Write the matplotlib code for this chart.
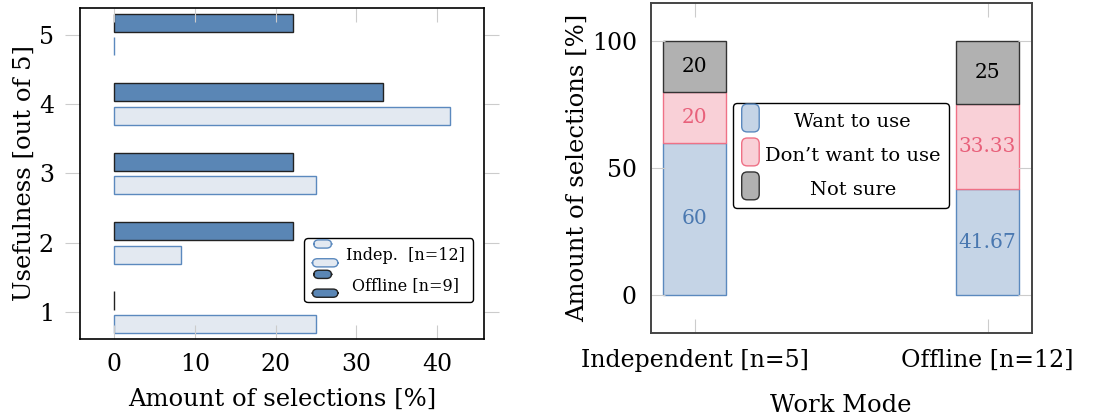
import matplotlib
matplotlib.use("Agg")
import matplotlib.pyplot as plt
from matplotlib.patches import FancyBboxPatch, Patch
from matplotlib.legend_handler import HandlerBase
import numpy as np

# usefulness ratings, share of selections per group [%]
levels = [1, 2, 3, 4, 5]
indep_share = [25, 8.33, 25, 41.67, 0]
offline_share = [0, 22.22, 22.22, 33.33, 22.22]

# stacked answers per work mode [%]
modes = ["Independent [n=5]", "Offline [n=12]"]
want_use = [60, 41.67]
dont_want = [20, 33.33]
not_sure = [20, 25]

plt.rcParams["font.family"] = ["DejaVu Serif"]

indep_fc, indep_ec = "#e3e9f1", "#5b89be"
off_fc, off_ec = "#5a86b5", "#222222"
want_fc, want_ec = "#c5d4e6", "#5b89be"
dont_fc, dont_ec = "#f9d0d7", "#ef7186"
unsure_fc, unsure_ec = "#b1b1b1", "#333333"
tick_col = "#cccccc"


class TwoBarHandler(HandlerBase):
    # two small rounded bars, like the pgfplots xbar legend
    def create_artists(self, legend, orig, xd, yd, w, h, fs, trans):
        fc, ec = orig.get_facecolor(), orig.get_edgecolor()
        small = FancyBboxPatch((xd + 0.05 * w, yd + 0.55 * h), 0.7 * w, 0.5 * h,
                               boxstyle="round,pad=0,rounding_size=3.5",
                               fc=fc, ec=ec, lw=1, transform=trans)
        big = FancyBboxPatch((xd, yd - 0.6 * h), w, 0.5 * h,
                             boxstyle="round,pad=0,rounding_size=3.5",
                             fc=fc, ec=ec, lw=1, transform=trans)
        return [small, big]


class RoundBoxHandler(HandlerBase):
    def create_artists(self, legend, orig, xd, yd, w, h, fs, trans):
        box = FancyBboxPatch((xd, yd - 0.4 * h), w, 1.6 * h,
                             boxstyle="round,pad=0,rounding_size=4",
                             fc=orig.get_facecolor(), ec=orig.get_edgecolor(),
                             lw=1, transform=trans)
        return [box]


def centre_texts(leg):
    # centre the legend entries within the text column
    texts = leg.get_texts()
    widths = [t.get_window_extent().width for t in texts]
    for t, w in zip(texts, widths):
        t.set_x((max(widths) - w) / 2)


fig = plt.figure(figsize=(11.13, 4.19), dpi=100)

# ---- left: usefulness ratings ----
ax1 = fig.add_axes([0.0722, 0.190, 0.3624, 0.792])
y = np.array(levels)
ax1.barh(y - 0.17, indep_share, height=0.26, color=indep_fc, edgecolor=indep_ec,
         linewidth=1, label="Indep. [n=12]")
ax1.barh(y + 0.17, offline_share, height=0.26, color=off_fc, edgecolor=off_ec,
         linewidth=1, label="Offline [n=9]")
ax1.set_xlim(-4.2, 45.8)
ax1.set_ylim(0.61, 5.39)
ax1.set_xticks([0, 10, 20, 30, 40])
ax1.set_yticks(levels)
ax1.tick_params(axis="x", direction="in", top=True, length=10, color=tick_col,
                labelsize=17, pad=10)
ax1.tick_params(axis="y", direction="out", right=True, length=11, color=tick_col,
                labelsize=17, pad=8)
ax1.set_xlabel("Amount of selections [%]", fontsize=17.5, labelpad=8)
ax1.set_ylabel("Usefulness [out of 5]", fontsize=17.5, labelpad=2)
for s in ax1.spines.values():
    s.set_linewidth(1.2)
leg1 = ax1.legend(handler_map={Patch: TwoBarHandler()},
                  handles=[Patch(fc=indep_fc, ec=indep_ec), Patch(fc=off_fc, ec=off_ec)],
                  labels=["Indep.  [n=12]", "Offline [n=9]"],
                  loc="lower right", bbox_to_anchor=(0.973, 0.112), borderaxespad=0,
                  fontsize=11.5, handlelength=1.6, handleheight=1.2, handletextpad=0.5,
                  labelspacing=0.8, fancybox=True, framealpha=1, edgecolor="black",
                  borderpad=0.5)
leg1.get_frame().set_linewidth(1)

# ---- right: stacked answers per work mode ----
ax2 = fig.add_axes([0.5846, 0.2045, 0.3423, 0.789])
x = np.arange(len(modes))
b1 = ax2.bar(x, want_use, width=0.215, color=want_fc, edgecolor=want_ec, linewidth=1,
             label="Want to use")
b2 = ax2.bar(x, dont_want, width=0.215, bottom=want_use, color=dont_fc,
             edgecolor=dont_ec, linewidth=1, label="Don\u2019t want to use")
bottom3 = np.array(want_use) + np.array(dont_want)
b3 = ax2.bar(x, not_sure, width=0.215, bottom=bottom3, color=unsure_fc,
             edgecolor=unsure_ec, linewidth=1, label="Not sure")
ax2.bar_label(b1, labels=[f"{v:g}" for v in want_use], label_type="center",
              color="#4a78b0", fontsize=14.5)
ax2.bar_label(b2, labels=[f"{v:g}" for v in dont_want], label_type="center",
              color="#e8607a", fontsize=14.5)
ax2.bar_label(b3, labels=[f"{v:g}" for v in not_sure], label_type="center",
              color="black", fontsize=14.5)
ax2.set_xlim(-0.15, 1.15)
ax2.set_ylim(-15, 115)
ax2.set_xticks(x)
ax2.set_xticklabels(modes)
ax2.set_yticks([0, 50, 100])
ax2.tick_params(direction="in", top=True, right=True, length=10, color=tick_col,
                labelsize=17)
ax2.tick_params(axis="x", pad=11)
ax2.tick_params(axis="y", pad=10)
ax2.set_xlabel("Work Mode", fontsize=17.5, labelpad=16)
ax2.set_ylabel("Amount of selections [%]", fontsize=17.5, labelpad=2)
for s in ax2.spines.values():
    s.set_linewidth(1.4)
    s.set_color("#444444")

leg2 = ax2.legend(handler_map={Patch: RoundBoxHandler()},
                  handles=[Patch(fc=want_fc, ec=want_ec), Patch(fc=dont_fc, ec=dont_ec),
                           Patch(fc=unsure_fc, ec=unsure_ec)],
                  labels=["Want to use", "Don\u2019t want to use", "Not sure"],
                  loc="upper left", bbox_to_anchor=(0.216, 0.697), borderaxespad=0,
                  fontsize=14, handlelength=0.9, handleheight=1.0, handletextpad=0.3,
                  labelspacing=0.75, fancybox=True, framealpha=1, edgecolor="black",
                  borderpad=0.45)
leg2.get_frame().set_linewidth(1)

fig.canvas.draw()
centre_texts(leg1)
centre_texts(leg2)

fig.savefig("out.png", dpi=100)
